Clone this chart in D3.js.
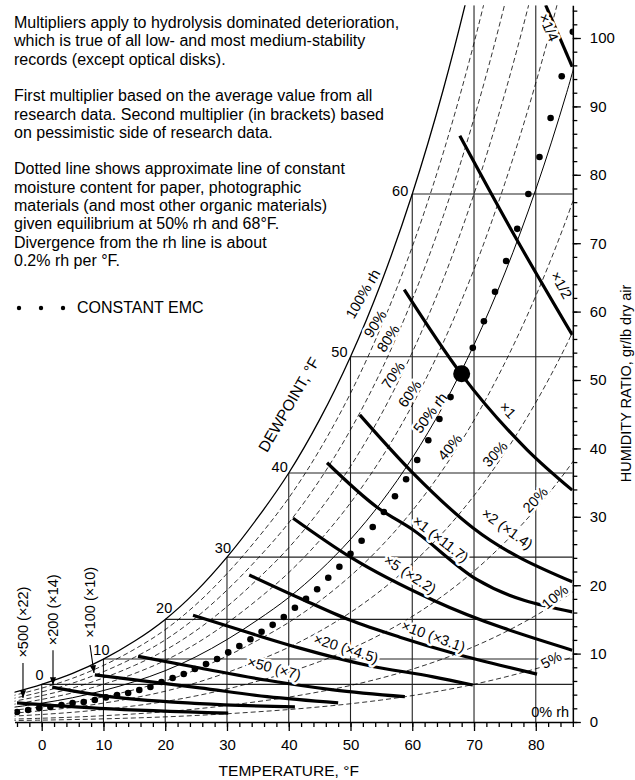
<!DOCTYPE html>
<html>
<head>
<meta charset="utf-8">
<script src="https://cdn.jsdelivr.net/npm/d3@7"></script>
<style>
body { margin: 0; background: #fff; }
text { font-family: Arial, "Liberation Sans", sans-serif; fill: #000; }
</style>
</head>
<body>
<div id="chart"></div>
<script>
// saturation humidity ratio (100% rh) at sea level, gr/lb dry air
const satTemps = [-5, 0, 5, 10, 15, 20, 25, 30, 35, 40, 45, 50, 55, 60, 65, 70, 75, 80, 85, 90];
const satGrains = [4.2, 5.5, 7.1, 9.2, 11.8, 15.0, 19.1, 24.1, 29.9, 36.4, 44.2, 53.4, 64.3, 77.2, 92.4, 110.3, 131.3, 155.7, 184.0, 217.0];

const rhDashed = [0.05, 0.1, 0.2, 0.3, 0.4, 0.6, 0.7, 0.8, 0.9];
const rhSolid = 0.5;

const gridTemps = [0, 10, 20, 30, 40, 50, 60, 70, 80];
const dewpoints = [0, 10, 20, 30, 40, 50, 60];

// isoperms, [temperature F, humidity ratio gr/lb]
const isoNames = ["×1/4", "×1/2", "×1", "×2 (×1.4)", "×1 (×11.7)", "×5 (×2.2)",
  "×10 (×3.1)", "×20 (×4.5)", "×50 (×7)", "×100 (×10)", "×200 (×14)", "×500 (×22)"];
const isoPoints = [
  [[81.6, 104.8], [85.9, 95.8]],
  [[67.7, 85.7], [76.0, 72.0], [85.9, 56.6]],
  [[58.7, 63.2], [67.9, 50.9], [78.6, 39.8], [85.9, 33.9]],
  [[51.5, 44.9], [60.0, 36.5], [69.8, 28.4], [85.9, 20.5]],
  [[46.2, 37.9], [54.3, 31.4], [60.1, 28.1], [70.5, 20.8], [85.9, 16.1]],
  [[40.7, 29.8], [50.0, 24.1], [63.4, 17.8], [85.9, 10.5]],
  [[33.6, 21.5], [41.8, 18.1], [49.9, 14.9], [58.0, 12.4], [66.1, 10.2], [74.2, 8.3], [80.2, 7.0]],
  [[24.5, 15.6], [33.7, 13.0], [41.8, 10.8], [52.7, 8.3], [63.4, 6.6], [69.8, 5.4]],
  [[15.6, 9.6], [25.6, 7.9], [36.5, 6.1], [47.2, 4.7], [58.8, 3.7]],
  [[8.6, 6.9], [25.6, 5.0], [36.5, 3.7], [48.0, 2.8]],
  [[1.7, 5.1], [9.4, 3.9], [25.6, 2.7], [41.0, 2.2]],
  [[-4.0, 2.8], [9.4, 2.0], [30.2, 1.3]]
];

// constant EMC dots, one per degree C from -20 to 30
const emcTemps = [-4, -2.2, -0.4, 1.4, 3.2, 5, 6.8, 8.6, 10.4, 12.2, 14, 15.8, 17.6, 19.4, 21.2, 23, 24.8, 26.6, 28.4, 30.2,
  32, 33.8, 35.6, 37.4, 39.2, 41, 42.8, 44.6, 46.4, 48.2, 50, 51.8, 53.6, 55.4, 57.2, 59, 60.8, 62.6, 64.4, 66.2,
  68, 69.8, 71.6, 73.4, 75.2, 77, 78.8, 80.6, 82.4, 84.2, 86];
const emcGrains = [1.46, 1.75, 2.05, 2.19, 2.49, 2.78, 2.92, 3.22, 3.6, 3.95, 4.24, 4.68, 5.12, 5.85, 6.43, 7.02, 7.75, 8.48, 9.21, 10.2,
  11.1, 12.1, 13.2, 14.2, 15.35, 16.7, 18.0, 19.4, 21.1, 22.7, 24.6, 26.5, 28.5, 30.7, 33.0, 35.5, 38.3, 41.2, 44.3, 47.5,
  50.9, 54.7, 58.6, 62.9, 67.4, 72.1, 77.2, 82.6, 88.3, 94.4, 100.9];
const refTemp = 68;

const notes = [
  "Multipliers apply to hydrolysis dominated deterioration,",
  "which is true of all low- and most medium-stability",
  "records (except optical disks).",
  "",
  "First multiplier based on the average value from all",
  "research data. Second multiplier (in brackets) based",
  "on pessimistic side of research data.",
  "",
  "Dotted line shows approximate line of constant",
  "moisture content for paper, photographic",
  "materials (and most other organic materials)",
  "given equilibrium at 50% rh and 68°F.",
  "Divergence from the rh line is about",
  "0.2% rh per °F."
];

// ---- layout ----
const width = 635, height = 780;
const tMin = -4.4, tMax = 86, wMax = 104.8;
const x0 = 41.7, pxPerF = 6.176, y0 = 722, pxPerGr = 6.84;

const x = d3.scaleLinear().domain([tMin, tMax]).range([x0 + tMin * pxPerF, x0 + tMax * pxPerF]);
const y = d3.scaleLinear().domain([0, wMax]).range([y0, y0 - wMax * pxPerGr]);

const svg = d3.select("#chart").append("svg")
    .attr("width", width)
    .attr("height", height);

const defs = svg.append("defs");
defs.append("clipPath").attr("id", "plot")
  .append("rect")
    .attr("x", x(tMin)).attr("y", y(wMax))
    .attr("width", x(tMax) - x(tMin)).attr("height", y(0) - y(wMax));
defs.append("marker")
    .attr("id", "arrow").attr("viewBox", "0 0 10 10")
    .attr("refX", 10).attr("refY", 5)
    .attr("markerWidth", 7).attr("markerHeight", 7)
    .attr("orient", "auto")
  .append("path").attr("d", "M0,1L10,5L0,9z").attr("fill", "#000");

const line = d3.line()
    .x(d => x(d[0]))
    .y(d => y(d[1]))
    .curve(d3.curveCatmullRom.alpha(0.5));
const isoLine = d3.line()
    .x(d => x(d[0]))
    .y(d => y(d[1]))
    .curve(d3.curveMonotoneX);

function satAt(t) {
    return satGrains[satTemps.indexOf(t)];
}
function rhCurve(rh) {
    return satTemps.map((t, i) => [t, satGrains[i] * rh]);
}

const plot = svg.append("g").attr("clip-path", "url(#plot)");

// dewpoint grid
plot.selectAll(".hgrid")
    .data(dewpoints)
    .enter().append("line")
    .attr("class", "hgrid")
    .attr("x1", d => x(d)).attr("x2", x(tMax))
    .attr("y1", d => y(satAt(d))).attr("y2", d => y(satAt(d)))
    .attr("stroke", "#222").attr("stroke-width", 1.1);

plot.selectAll(".vgrid")
    .data(gridTemps)
    .enter().append("line")
    .attr("class", "vgrid")
    .attr("x1", d => x(d)).attr("x2", d => x(d))
    .attr("y1", y(0)).attr("y2", d => y(Math.min(satAt(d), wMax)))
    .attr("stroke", "#222").attr("stroke-width", 1.1);

// rh curves
plot.selectAll(".rh")
    .data(rhDashed)
    .enter().append("path")
    .attr("class", "rh")
    .attr("d", d => line(rhCurve(d)))
    .attr("fill", "none")
    .attr("stroke", "#000")
    .attr("stroke-width", 0.8)
    .attr("stroke-dasharray", "5,3");

plot.append("path")
    .attr("d", line(rhCurve(rhSolid)))
    .attr("fill", "none").attr("stroke", "#000").attr("stroke-width", 1);

plot.append("path")
    .attr("d", line(rhCurve(1)))
    .attr("fill", "none").attr("stroke", "#000").attr("stroke-width", 1.3);

// isoperms
plot.selectAll(".iso")
    .data(isoPoints)
    .enter().append("path")
    .attr("class", "iso")
    .attr("d", d => isoLine(d))
    .attr("fill", "none")
    .attr("stroke", "#000")
    .attr("stroke-width", 3.2);

// ---- labels ----
const labels = svg.append("g");

function halo(sel) {
    return sel.attr("stroke", "#fff").attr("stroke-width", 5)
        .attr("stroke-linejoin", "round").attr("paint-order", "stroke");
}

// dewpoint numbers at the corners, offsets in px
const dewOffsets = [[2, -4], [6, -4], [7, -6], [4, -4], [-1, -1], [-3, 0], [-4, 2]];
labels.selectAll(".dew")
    .data(dewpoints)
    .enter().append("text")
    .attr("class", "dew")
    .attr("x", (d, i) => x(d) + dewOffsets[i][0])
    .attr("y", (d, i) => y(satAt(d)) + dewOffsets[i][1])
    .attr("text-anchor", "end")
    .attr("font-size", 14.5)
    .text(d => d);

// rh labels: text, [T, W] centre, rotation
const rhLabels = [
    ["100% rh", 52.0, 62.6, -60], ["90%", 54.0, 58.2, -57], ["80%", 56.1, 56.1, -57],
    ["70%", 56.9, 50.7, -55], ["60%", 59.6, 48.0, -55], ["50% rh", 62.9, 45.2, -53],
    ["40%", 66.1, 40.2, -50], ["30%", 73.4, 39.2, -47], ["20%", 79.9, 32.5, -47],
    ["10%", 83.1, 18.3, -40], ["5%", 82.5, 9.1, -28]
];
halo(labels.selectAll(".rhl")
    .data(rhLabels)
    .enter().append("text")
    .attr("class", "rhl")
    .attr("transform", d => `translate(${x(d[1])},${y(d[2])}) rotate(${d[3]})`)
    .attr("text-anchor", "middle")
    .attr("dy", "0.35em")
    .attr("font-size", 14.5)
    .text(d => d[0]));

labels.append("text")
    .attr("x", x(85.4)).attr("y", y(0) - 5)
    .attr("text-anchor", "end")
    .attr("font-size", 14.5)
    .text("0% rh");

// isoperm labels along the lines, lifted a little above their line
const isoLabelPos = [
    [81.5, 101.3, 67], [83.6, 63.6, 61], [75.0, 45.2, 47], [75.0, 27.8, 36],
    [64.2, 26.3, 38], [59.3, 21.1, 33], [63.2, 12.0, 20], [49.1, 10.2, 18], [37.5, 7.3, 15]
];
const lift = 4;
halo(labels.selectAll(".isol")
    .data(isoLabelPos)
    .enter().append("text")
    .attr("class", "isol")
    .attr("transform", d => {
        const a = d[2] * Math.PI / 180;
        const px = x(d[0]) + lift * Math.sin(a), py = y(d[1]) - lift * Math.cos(a);
        return `translate(${px},${py}) rotate(${d[2]})`;
    })
    .attr("text-anchor", "middle")
    .attr("dy", "0.35em")
    .attr("font-size", 14.5)
    .text((d, i) => isoNames[i]));

// vertical labels with arrows for the three coldest isoperms
const isoArrowLabels = [
    [9, 7.8, 17.5, [7.82, 11.26], [8.47, 7.16]],
    [10, 1.8, 16.4, [1.83, 10.5], [1.83, 5.4]],
    [11, -3.0, 14.6, [-3.03, 8.63], [-3.03, 3.5]]
];
labels.selectAll(".isov")
    .data(isoArrowLabels)
    .enter().append("text")
    .attr("class", "isov")
    .attr("transform", d => `translate(${x(d[1])},${y(d[2])}) rotate(-90)`)
    .attr("text-anchor", "middle")
    .attr("dy", "0.35em")
    .attr("font-size", 14.5)
    .text(d => isoNames[d[0]]);
labels.selectAll(".isoa")
    .data(isoArrowLabels)
    .enter().append("line")
    .attr("class", "isoa")
    .attr("x1", d => x(d[3][0])).attr("y1", d => y(d[3][1]))
    .attr("x2", d => x(d[4][0])).attr("y2", d => y(d[4][1]))
    .attr("stroke", "#000").attr("stroke-width", 1.1)
    .attr("marker-end", "url(#arrow)");

halo(labels.append("text")
    .attr("transform", `translate(${x(40.0)},${y(46.4)}) rotate(-60)`)
    .attr("text-anchor", "middle")
    .attr("dy", "0.35em")
    .attr("font-size", 15.5)
    .text("DEWPOINT, °F"));

// EMC dots
const dots = svg.append("g").attr("clip-path", "url(#plot)");
dots.selectAll("circle")
    .data(emcTemps)
    .enter().append("circle")
    .attr("cx", d => x(d))
    .attr("cy", (d, i) => y(emcGrains[i]))
    .attr("r", d => d === refTemp ? 8.5 : 3.3)
    .attr("fill", "#000");

// ---- axes ----
const xAxisMinor = d3.axisBottom(x).tickValues(d3.range(-4, 87, 2)).tickSize(5).tickFormat("");
const xAxisMajor = d3.axisBottom(x).tickValues(gridTemps).tickSize(9).tickSizeOuter(0).tickPadding(8);
const yAxisMinor = d3.axisRight(y).tickValues(d3.range(0, 105, 2)).tickSize(4.5).tickFormat("");
const yAxisMajor = d3.axisRight(y).tickValues(d3.range(0, 101, 10)).tickSize(8).tickSizeOuter(0).tickPadding(9);

function styleAxis(g) {
    g.attr("font-size", 15).attr("font-family", "Arial, 'Liberation Sans', sans-serif");
    g.selectAll("line").attr("stroke", "#000").attr("stroke-width", 1.3);
    g.selectAll("path").attr("stroke", "#000").attr("stroke-width", 1.5);
}
svg.append("g").attr("transform", `translate(0,${y(0)})`).call(xAxisMinor).call(g => g.select(".domain").remove()).call(styleAxis);
svg.append("g").attr("transform", `translate(0,${y(0)})`).call(xAxisMajor).call(styleAxis);
svg.append("g").attr("transform", `translate(${x(tMax)},0)`).call(yAxisMinor).call(g => g.select(".domain").remove()).call(styleAxis);
svg.append("g").attr("transform", `translate(${x(tMax)},0)`).call(yAxisMajor).call(styleAxis);

svg.append("text")
    .attr("x", x(40)).attr("y", 776)
    .attr("text-anchor", "middle")
    .attr("font-size", 15.5)
    .text("TEMPERATURE, °F");

svg.append("text")
    .attr("transform", `translate(631,${y(49.5)}) rotate(-90)`)
    .attr("text-anchor", "middle")
    .attr("font-size", 14.5)
    .text("HUMIDITY RATIO, gr/lb dry air");

// ---- notes and legend ----
svg.append("g").selectAll("text")
    .data(notes)
    .enter().append("text")
    .attr("x", 14)
    .attr("y", (d, i) => 28 + i * 18.3)
    .attr("font-size", 16)
    .text(d => d);

const legend = svg.append("g").attr("transform", "translate(0,308)");
legend.selectAll("circle")
    .data([19, 41, 63])
    .enter().append("circle")
    .attr("cx", d => d).attr("cy", 0).attr("r", 2.2).attr("fill", "#000");
legend.append("text")
    .attr("x", 77).attr("y", 5)
    .attr("font-size", 16)
    .text("CONSTANT EMC");
</script>
</body>
</html>
